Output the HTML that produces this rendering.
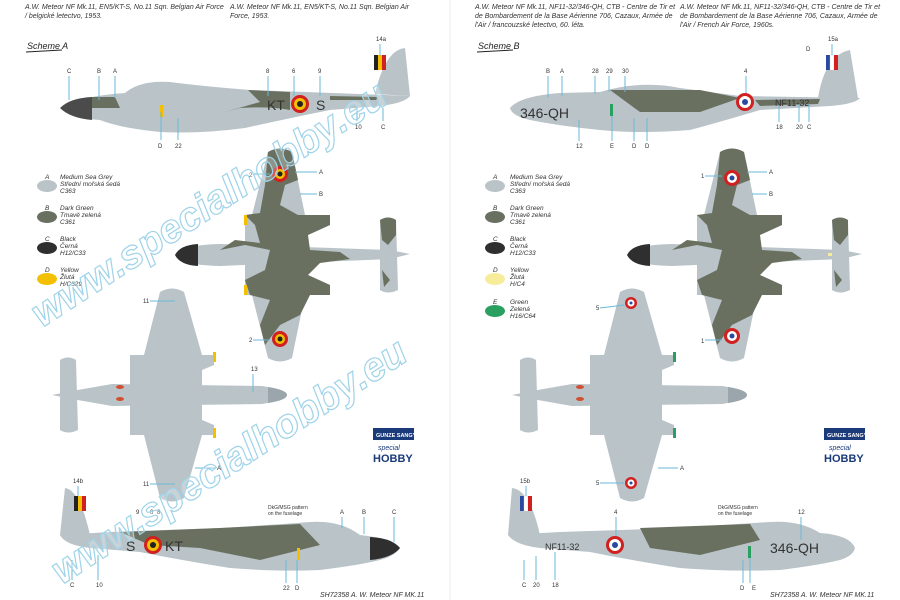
<!DOCTYPE html>
<html><head><meta charset="utf-8"><style>
body{margin:0;background:#fff;}
svg{display:block;font-family:"Liberation Sans",sans-serif;}
.h{font-size:7px;font-style:italic;fill:#333}
.l{font-size:6px;fill:#333}
.lg{font-size:6.5px;font-style:italic;fill:#333}
.ld{stroke:#6ab8d8;stroke-width:1}
.wm{font-size:40px;font-weight:bold;font-style:italic;fill:rgba(255,255,255,0.25);stroke:#9fd3e8;stroke-width:1.2}
</style></head><body>
<svg width="900" height="600" viewBox="0 0 900 600">
<defs>
<g id="tv">
<path d="M-12 -103 Q0 -110 12 -103 L25 -40 L50 -40 L50 -30 L28 -20 L28 20 L50 30 L50 40 L25 40 L12 103 Q0 110 -12 103 L-28 40 L-35 40 L-35 -40 L-28 -40 Z" fill="#b9c3c8"/>
<path d="M-105 0 Q-100 -10 -60 -11 L110 -5 L130 -1 L110 4 L-60 11 Q-100 10 -105 0 Z" fill="#b9c3c8"/>
<path d="M100 -35 Q108 -40 116 -35 L118 35 Q108 40 100 35 Z" fill="#b9c3c8"/>
<path d="M-105 0 Q-100 -10 -82 -11 L-82 11 Q-100 10 -105 0Z" fill="#2f2f2f"/>
<path d="M-12 -103 Q0 -110 12 -103 L18 -75 L5 -70 L0 -50 L18 -40 L50 -40 L50 -30 L28 -20 L30 -5 L60 -3 L70 4 L40 8 L28 20 L50 30 L50 40 L30 40 L20 60 L0 70 L-15 90 L-20 70 L-10 45 L-30 40 L-35 25 L-15 15 L-10 -5 L-35 -10 L-60 -5 L-45 -15 L-20 -12 L-25 -30 L-35 -40 L-20 -42 L-15 -70 Z" fill="#6a7060"/>
<path d="M100 -35 Q108 -40 116 -35 L116 -20 L108 -10 L102 -15 Z M102 15 L110 25 L104 32 Z" fill="#6a7060"/>
</g>
<g id="bv">
<path d="M-12 -103 Q0 -110 12 -103 L30 -40 L42 -40 L42 -30 L30 -25 L30 25 L42 30 L42 40 L30 40 L12 103 Q0 110 -12 103 L-28 40 L-42 40 L-42 -40 L-28 -40 Z" fill="#b9c3c8"/>
<path d="M-120 0 L-100 -4 L-60 -11 L90 -9 Q115 -5 115 0 Q115 5 90 9 L-60 11 L-100 4 Z" fill="#b9c3c8"/>
<path d="M-112 -35 Q-104 -40 -96 -35 L-94 35 Q-104 40 -112 35 Z" fill="#b9c3c8"/>
<path d="M96 -8 Q115 -5 115 0 Q115 5 96 8 Z" fill="#9aa6ac"/>
</g>
</defs>
<rect width="900" height="600" fill="#fff"/>
<line x1="450" y1="0" x2="450" y2="600" stroke="#eee"/>
<text class="h" x="25" y="9">A.W. Meteor NF Mk.11, EN5/KT-S, No.11 Sqn. Belgian Air Force</text>
<text class="h" x="25" y="18">/ belgické letectvo, 1953.</text>
<text class="h" x="230" y="9">A.W. Meteor NF Mk.11, EN5/KT-S, No.11 Sqn. Belgian Air</text>
<text class="h" x="230" y="18">Force, 1953.</text>
<text class="h" x="475" y="9">A.W. Meteor NF Mk.11, NF11-32/346-QH, CTB - Centre de Tir et</text>
<text class="h" x="475" y="18">de Bombardement de la Base Aérienne 706, Cazaux, Armée de</text>
<text class="h" x="475" y="27">l'Air / francouzské letectvo, 60. léta.</text>
<text class="h" x="680" y="9">A.W. Meteor NF Mk.11, NF11-32/346-QH, CTB - Centre de Tir et</text>
<text class="h" x="680" y="18">de Bombardement de la Base Aérienne 706, Cazaux, Armée de</text>
<text class="h" x="680" y="27">l'Air / French Air Force, 1960s.</text>
<text x="27" y="49" font-size="9" font-style="italic" fill="#222">Scheme A</text>
<path d="M26 52 L62 50" stroke="#222" stroke-width="1"/>
<text x="478" y="49" font-size="9" font-style="italic" fill="#222">Scheme B</text>
<path d="M477 52 L513 50" stroke="#222" stroke-width="1"/>

<!-- LEFT top side view -->
<g>
<path d="M60 108 Q80 96 125 93 Q140 80 170 82 Q200 86 250 90 L360 94 L410 96 Q405 103 380 106 L330 110 Q290 118 245 128 Q200 134 160 132 Q120 128 100 120 Q70 118 60 108 Z" fill="#b9c3c8"/>
<path d="M375 94 Q385 50 405 48 L410 96 Z" fill="#b9c3c8"/>
<path d="M60 108 Q70 98 92 97 L92 120 Q70 118 60 108 Z" fill="#4a4b4a"/>
<path d="M92 97 L115 97 L120 108 L92 108 Z" fill="#6a7060"/>
<path d="M248 90 L290 92 L290 110 Q270 106 240 108 L225 112 L260 102 Z" fill="#6a7060"/>
<path d="M330 96 L378 97 L376 100 L330 100 Z" fill="#6a7060"/>
<rect x="374" y="55" width="4" height="15" fill="#222"/><rect x="378" y="55" width="4" height="15" fill="#f2c000"/><rect x="382" y="55" width="4" height="15" fill="#d02020"/>
<circle cx="300" cy="104" r="9" fill="#d02020"/><circle cx="300" cy="104" r="6" fill="#f2c000"/><circle cx="300" cy="104" r="3" fill="#222"/>
<text x="267" y="110" font-size="14" fill="#333">KT</text><text x="316" y="110" font-size="14" fill="#333">S</text>
<rect x="160" y="105" width="3" height="12" fill="#f2c000"/>
</g>
<g class="l">
<text x="67" y="73">C</text><text x="97" y="73">B</text><text x="113" y="73">A</text><text x="266" y="73">8</text><text x="292" y="73">6</text><text x="318" y="73">9</text><text x="376" y="41">14a</text>
<text x="158" y="148">D</text><text x="175" y="148">22</text><text x="355" y="129">10</text><text x="381" y="129">C</text>
</g>
<g class="ld"><line x1="69" y1="76" x2="69" y2="100"/><line x1="99" y1="76" x2="99" y2="100"/><line x1="115" y1="76" x2="115" y2="98"/><line x1="268" y1="76" x2="268" y2="96"/><line x1="294" y1="76" x2="294" y2="96"/><line x1="320" y1="76" x2="320" y2="96"/><line x1="380" y1="44" x2="380" y2="56"/><line x1="161" y1="112" x2="161" y2="140"/><line x1="178" y1="118" x2="178" y2="140"/><line x1="357" y1="108" x2="357" y2="121"/><line x1="383" y1="108" x2="383" y2="121"/></g>

<!-- Legend left -->
<g class="lg">
<ellipse cx="47" cy="186" rx="10" ry="6" fill="#b9c3c8"/><text x="45" y="179">A</text><text x="60" y="179">Medium Sea Grey</text><text x="60" y="186">Střední mořská šedá</text><text x="60" y="193">C363</text>
<ellipse cx="47" cy="217" rx="10" ry="6" fill="#6a7060"/><text x="45" y="210">B</text><text x="60" y="210">Dark Green</text><text x="60" y="217">Tmavě zelená</text><text x="60" y="224">C361</text>
<ellipse cx="47" cy="248" rx="10" ry="6" fill="#2f2f2f"/><text x="45" y="241">C</text><text x="60" y="241">Black</text><text x="60" y="248">Černá</text><text x="60" y="255">H12/C33</text>
<ellipse cx="47" cy="279" rx="10" ry="6" fill="#f2c000"/><text x="45" y="272">D</text><text x="60" y="272">Yellow</text><text x="60" y="279">Žlutá</text><text x="60" y="286">H/C329</text>
</g>

<!-- LEFT top view -->
<use href="#tv" x="280" y="255"/>
<circle cx="280" cy="174" r="8" fill="#d02020"/><circle cx="280" cy="174" r="5" fill="#f2c000"/><circle cx="280" cy="174" r="2.5" fill="#222"/>
<circle cx="280" cy="339" r="8" fill="#d02020"/><circle cx="280" cy="339" r="5" fill="#f2c000"/><circle cx="280" cy="339" r="2.5" fill="#222"/>
<rect x="244" y="215" width="3" height="10" fill="#f2c000"/><rect x="244" y="285" width="3" height="10" fill="#f2c000"/>
<g class="l"><text x="249" y="177">2</text><text x="249" y="342">2</text><text x="319" y="174">A</text><text x="319" y="196">B</text></g>
<g class="ld"><line x1="253" y1="174" x2="270" y2="174"/><line x1="253" y1="340" x2="270" y2="340"/><line x1="295" y1="172" x2="317" y2="172"/><line x1="300" y1="194" x2="317" y2="194"/></g>

<!-- LEFT bottom view -->
<use href="#bv" x="172" y="395"/>
<rect x="213" y="352" width="3" height="10" fill="#f2c000"/><rect x="213" y="428" width="3" height="10" fill="#f2c000"/>
<ellipse cx="120" cy="387" rx="4" ry="2" fill="#d05030"/><ellipse cx="120" cy="399" rx="4" ry="2" fill="#d05030"/>
<g class="l"><text x="143" y="303">11</text><text x="143" y="486">11</text><text x="251" y="371">13</text><text x="217" y="470">A</text></g>
<g class="ld"><line x1="150" y1="301" x2="175" y2="301"/><line x1="150" y1="484" x2="175" y2="484"/><line x1="253" y1="374" x2="253" y2="392"/><line x1="195" y1="468" x2="215" y2="468"/></g>

<!-- logos -->
<rect x="373" y="428" width="41" height="12" fill="#1a3a7a"/><text x="376" y="437" font-size="5.5" fill="#fff" font-weight="bold">GUNZE SANGYO</text>
<text x="378" y="450" font-size="7" font-style="italic" fill="#1a3a7a">special</text><text x="373" y="462" font-size="11" font-weight="bold" fill="#1a3a7a">HOBBY</text>
<rect x="824" y="428" width="41" height="12" fill="#1a3a7a"/><text x="827" y="437" font-size="5.5" fill="#fff" font-weight="bold">GUNZE SANGYO</text>
<text x="829" y="450" font-size="7" font-style="italic" fill="#1a3a7a">special</text><text x="824" y="462" font-size="11" font-weight="bold" fill="#1a3a7a">HOBBY</text>

<!-- LEFT bottom side view -->
<g>
<path d="M400 548 Q390 538 360 535 Q340 520 310 522 Q270 525 220 528 L110 532 L60 535 Q65 545 90 548 L140 552 Q180 560 230 568 Q280 572 320 570 Q360 565 380 560 Q395 556 400 548Z" fill="#b9c3c8"/>
<path d="M90 535 Q80 490 65 488 L60 535 Z" fill="#b9c3c8"/>
<path d="M400 548 Q392 538 370 537 L370 560 Q392 558 400 548Z" fill="#2f2f2f"/>
<path d="M120 532 L220 528 L300 524 L320 545 L260 560 L200 548 L150 545 Z" fill="#6a7060"/>
<rect x="74" y="496" width="4" height="15" fill="#222"/><rect x="78" y="496" width="4" height="15" fill="#f2c000"/><rect x="82" y="496" width="4" height="15" fill="#d02020"/>
<circle cx="153" cy="545" r="9" fill="#d02020"/><circle cx="153" cy="545" r="6" fill="#f2c000"/><circle cx="153" cy="545" r="3" fill="#222"/>
<text x="126" y="551" font-size="14" fill="#333">S</text><text x="165" y="551" font-size="14" fill="#333">KT</text>
<rect x="297" y="548" width="3" height="12" fill="#f2c000"/>
<g class="l"><text x="73" y="483">14b</text><text x="70" y="587">C</text><text x="96" y="587">10</text><text x="136" y="514">9</text><text x="150" y="514">6</text><text x="157" y="514">8</text><text x="340" y="514">A</text><text x="362" y="514">B</text><text x="392" y="514">C</text><text x="283" y="590">22</text><text x="295" y="590">D</text><text x="268" y="509" font-size="5">DkG/MSG pattern</text><text x="268" y="515" font-size="5">on the fuselage</text></g>
<g class="ld"><line x1="78" y1="486" x2="78" y2="496"/><line x1="72" y1="560" x2="72" y2="580"/><line x1="98" y1="555" x2="98" y2="580"/><line x1="342" y1="517" x2="342" y2="528"/><line x1="364" y1="517" x2="364" y2="534"/><line x1="394" y1="517" x2="394" y2="542"/><line x1="286" y1="560" x2="286" y2="583"/><line x1="297" y1="560" x2="297" y2="583"/></g>
</g>

<!-- RIGHT top side view -->
<g>
<path d="M510 108 Q520 96 560 93 L600 92 Q640 80 680 88 Q710 92 740 96 L860 98 Q855 104 830 106 L760 110 Q720 122 690 130 Q640 134 600 130 Q560 126 530 120 Q512 116 510 108 Z" fill="#b9c3c8"/>
<path d="M818 98 Q825 55 850 50 L858 98 Z" fill="#b9c3c8"/>
<path d="M610 90 L700 90 L740 98 L700 112 L640 112 Z" fill="#6a7060"/>
<path d="M755 100 L820 99 L818 104 L760 106 Z" fill="#6a7060"/>
<rect x="826" y="55" width="4" height="15" fill="#2a4aa0"/><rect x="830" y="55" width="4" height="15" fill="#fff" stroke="#ccc" stroke-width=".3"/><rect x="834" y="55" width="4" height="15" fill="#d02020"/>
<circle cx="745" cy="102" r="9" fill="#d02020"/><circle cx="745" cy="102" r="6" fill="#fff"/><circle cx="745" cy="102" r="3" fill="#2a4aa0"/>
<text x="520" y="118" font-size="14" fill="#333">346-QH</text><text x="775" y="106" font-size="9" fill="#333">NF11-32</text>
<rect x="610" y="104" width="3" height="12" fill="#2aa060"/>
<g class="l"><text x="546" y="73">B</text><text x="560" y="73">A</text><text x="592" y="73">28</text><text x="606" y="73">29</text><text x="622" y="73">30</text><text x="744" y="73">4</text><text x="806" y="51">D</text><text x="828" y="41">15a</text>
<text x="576" y="148">12</text><text x="610" y="148">E</text><text x="632" y="148">D</text><text x="645" y="148">D</text><text x="776" y="129">18</text><text x="796" y="129">20</text><text x="807" y="129">C</text></g>
<g class="ld"><line x1="548" y1="76" x2="548" y2="98"/><line x1="562" y1="76" x2="562" y2="96"/><line x1="595" y1="76" x2="595" y2="94"/><line x1="609" y1="76" x2="609" y2="92"/><line x1="625" y1="76" x2="625" y2="92"/><line x1="746" y1="76" x2="746" y2="93"/><line x1="832" y1="44" x2="832" y2="55"/><line x1="579" y1="120" x2="579" y2="141"/><line x1="612" y1="116" x2="612" y2="141"/><line x1="634" y1="118" x2="634" y2="141"/><line x1="647" y1="118" x2="647" y2="141"/><line x1="779" y1="106" x2="779" y2="122"/><line x1="799" y1="104" x2="799" y2="122"/><line x1="809" y1="104" x2="809" y2="122"/></g>
</g>

<!-- Legend right -->
<g class="lg">
<ellipse cx="495" cy="186" rx="10" ry="6" fill="#b9c3c8"/><text x="493" y="179">A</text><text x="510" y="179">Medium Sea Grey</text><text x="510" y="186">Střední mořská šedá</text><text x="510" y="193">C363</text>
<ellipse cx="495" cy="217" rx="10" ry="6" fill="#6a7060"/><text x="493" y="210">B</text><text x="510" y="210">Dark Green</text><text x="510" y="217">Tmavě zelená</text><text x="510" y="224">C361</text>
<ellipse cx="495" cy="248" rx="10" ry="6" fill="#2f2f2f"/><text x="493" y="241">C</text><text x="510" y="241">Black</text><text x="510" y="248">Černá</text><text x="510" y="255">H12/C33</text>
<ellipse cx="495" cy="279" rx="10" ry="6" fill="#f6ec9a"/><text x="493" y="272">D</text><text x="510" y="272">Yellow</text><text x="510" y="279">Žlutá</text><text x="510" y="286">H/C4</text>
<ellipse cx="495" cy="311" rx="10" ry="6" fill="#2aa060"/><text x="493" y="304">E</text><text x="510" y="304">Green</text><text x="510" y="311">Zelená</text><text x="510" y="318">H16/C64</text>
</g>

<!-- RIGHT top view -->
<use href="#tv" x="732" y="255"/>
<circle cx="732" cy="178" r="8" fill="#d02020"/><circle cx="732" cy="178" r="5" fill="#fff"/><circle cx="732" cy="178" r="2.5" fill="#2a4aa0"/>
<circle cx="732" cy="336" r="8" fill="#d02020"/><circle cx="732" cy="336" r="5" fill="#fff"/><circle cx="732" cy="336" r="2.5" fill="#2a4aa0"/>
<rect x="828" y="253" width="4" height="3" fill="#f6ec9a"/>
<g class="l"><text x="701" y="178">1</text><text x="701" y="343">1</text><text x="769" y="174">A</text><text x="769" y="196">B</text></g>
<g class="ld"><line x1="705" y1="176" x2="722" y2="176"/><line x1="705" y1="340" x2="722" y2="340"/><line x1="747" y1="172" x2="767" y2="172"/><line x1="752" y1="194" x2="767" y2="194"/></g>

<!-- RIGHT bottom view -->
<use href="#bv" x="632" y="395"/>
<rect x="673" y="352" width="3" height="10" fill="#2aa060"/><rect x="673" y="428" width="3" height="10" fill="#2aa060"/>
<ellipse cx="580" cy="387" rx="4" ry="2" fill="#d05030"/><ellipse cx="580" cy="399" rx="4" ry="2" fill="#d05030"/>
<circle cx="631" cy="303" r="6" fill="#d02020"/><circle cx="631" cy="303" r="3.5" fill="#fff"/><circle cx="631" cy="303" r="1.5" fill="#2a4aa0"/>
<circle cx="631" cy="483" r="6" fill="#d02020"/><circle cx="631" cy="483" r="3.5" fill="#fff"/><circle cx="631" cy="483" r="1.5" fill="#2a4aa0"/>
<g class="l"><text x="596" y="310">5</text><text x="596" y="485">5</text><text x="680" y="470">A</text></g>
<g class="ld"><line x1="600" y1="308" x2="624" y2="305"/><line x1="600" y1="483" x2="624" y2="483"/><line x1="658" y1="468" x2="678" y2="468"/></g>

<!-- RIGHT bottom side view -->
<g>
<path d="M855 548 Q850 535 820 533 Q800 520 770 522 Q720 525 680 528 L560 532 L508 535 Q515 545 540 548 L590 552 Q630 560 680 568 Q730 572 780 570 Q820 565 840 560 Q853 556 855 548Z" fill="#b9c3c8"/>
<path d="M540 535 Q530 490 512 488 L508 535 Z" fill="#b9c3c8"/>
<path d="M640 528 L750 524 L760 540 L700 555 L650 548 Z" fill="#6a7060"/>
<rect x="520" y="496" width="4" height="15" fill="#2a4aa0"/><rect x="524" y="496" width="4" height="15" fill="#fff" stroke="#ccc" stroke-width=".3"/><rect x="528" y="496" width="4" height="15" fill="#d02020"/>
<circle cx="615" cy="545" r="9" fill="#d02020"/><circle cx="615" cy="545" r="6" fill="#fff"/><circle cx="615" cy="545" r="3" fill="#2a4aa0"/>
<text x="545" y="550" font-size="9" fill="#333">NF11-32</text><text x="770" y="553" font-size="14" fill="#333">346-QH</text>
<rect x="748" y="546" width="3" height="12" fill="#2aa060"/>
<g class="l"><text x="520" y="483">15b</text><text x="522" y="587">C</text><text x="533" y="587">20</text><text x="552" y="587">18</text><text x="614" y="514">4</text><text x="798" y="514">12</text><text x="740" y="590">D</text><text x="752" y="590">E</text><text x="718" y="509" font-size="5">DkG/MSG pattern</text><text x="718" y="515" font-size="5">on the fuselage</text></g>
<g class="ld"><line x1="526" y1="486" x2="526" y2="496"/><line x1="524" y1="560" x2="524" y2="580"/><line x1="536" y1="556" x2="536" y2="580"/><line x1="555" y1="552" x2="555" y2="580"/><line x1="616" y1="517" x2="616" y2="536"/><line x1="801" y1="517" x2="801" y2="540"/><line x1="743" y1="560" x2="743" y2="583"/><line x1="750" y1="558" x2="750" y2="583"/></g>
</g>

<!-- watermark -->
<text class="wm" transform="translate(42,328) rotate(-33)">www.specialhobby.eu</text>
<text class="wm" transform="translate(62,585) rotate(-33)">www.specialhobby.eu</text>

<text x="320" y="597" font-size="7" font-style="italic" fill="#333">SH72358  A. W. Meteor NF MK.11</text>
<text x="770" y="597" font-size="7" font-style="italic" fill="#333">SH72358  A. W. Meteor NF MK.11</text>
</svg>
</body></html>
